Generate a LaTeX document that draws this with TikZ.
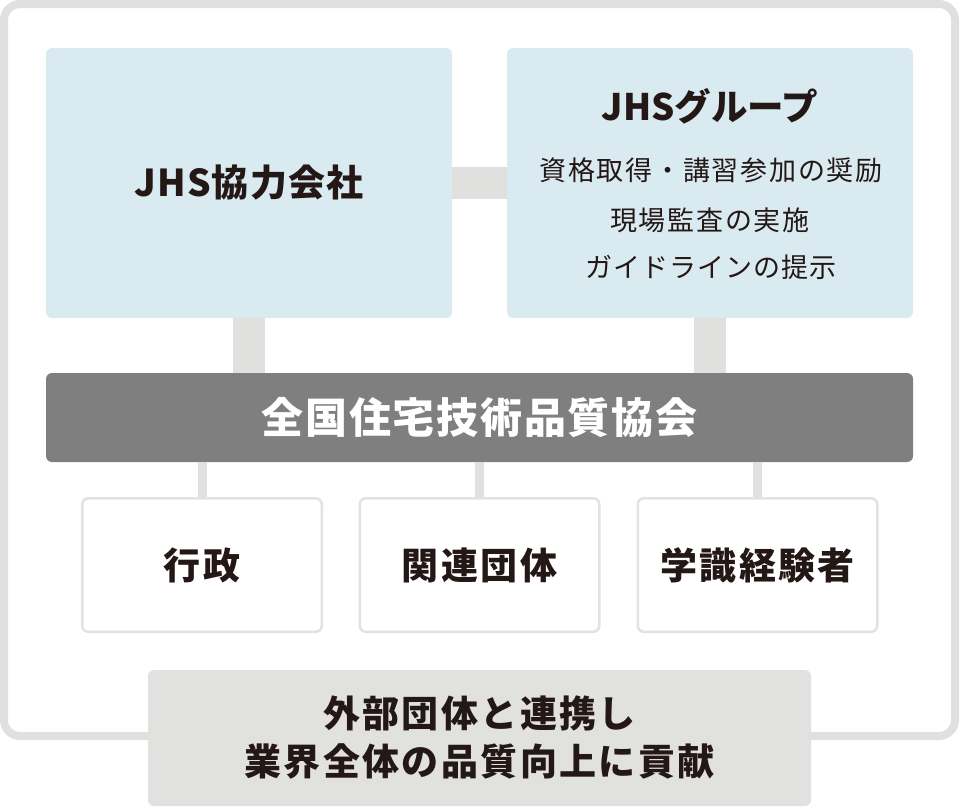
\documentclass[tikz,border=0pt]{standalone}
\usepackage{fontspec}
\setmainfont{Noto Sans CJK JP}
\definecolor{boxblue}{HTML}{DAEAF1}
\definecolor{darkbar}{HTML}{7F7F7F}
\definecolor{linegray}{HTML}{E0E0DE}
\definecolor{bottomgray}{HTML}{E1E1DF}
\definecolor{smallborder}{HTML}{E2E2E2}
\definecolor{ink}{HTML}{231815}
\begin{document}
\begin{tikzpicture}[x=1pt,y=-1pt,
  bluebox/.style={fill=boxblue, rounded corners=6pt, inner sep=0pt, text=ink},
  darkbox/.style={fill=darkbar, rounded corners=6pt, inner sep=0pt, text=white},
  smallbox/.style={draw=smallborder, line width=2.5pt, fill=white, rounded corners=6pt,
    inner sep=0pt, minimum width=239.5pt, minimum height=133.5pt, text=ink,
    font=\fontsize{37}{44}\selectfont\bfseries\addfontfeatures{LetterSpace=6.5}},
  bottombox/.style={fill=bottomgray, rounded corners=6pt, inner sep=0pt, text=ink, align=center},
  thickconn/.style={draw=linegray, line width=32pt},
  thinconn/.style={draw=linegray, line width=9pt},
  txt/.style={inner sep=0pt, text=ink}
]
\useasboundingbox (0,0) rectangle (960,807);
% outer frame
\draw[linegray, line width=8pt, rounded corners=16pt] (4,4) rectangle (955,736);

% main nodes
\node[bluebox, minimum width=406pt, minimum height=270pt,
  font=\fontsize{37}{44}\selectfont\bfseries\addfontfeatures{LetterSpace=3}] (kyo) at (249,183) {JHS協力会社};
\node[bluebox, minimum width=406pt, minimum height=270pt] (grp) at (710,183) {};
\node[darkbox, minimum width=867pt, minimum height=89pt,
  font=\fontsize{42}{48}\selectfont\bfseries\addfontfeatures{LetterSpace=4}] (assoc) at (479.5,417.5) {全国住宅技術品質協会};

% connectors
\draw[thickconn] (kyo.east) -- (grp.west);
\draw[thickconn] (kyo.south) -- (kyo.south |- assoc.north);
\draw[thickconn] (grp.south) -- (grp.south |- assoc.north);

% group texts
\node[txt, font=\fontsize{36.5}{42}\selectfont\bfseries] (grptitle) at (710,106) {JHSグループ};
\node[txt, font=\fontsize{27}{32}\selectfont\addfontfeatures{LetterSpace=6.5}] (l1) at (711,170) {資格取得・講習参加の奨励};
\node[txt, font=\fontsize{27}{32}\selectfont\addfontfeatures{LetterSpace=6.5}] (l2) at (710,220) {現場監査の実施};
\node[txt, font=\fontsize{27}{32}\selectfont\addfontfeatures{LetterSpace=4}] (l3) at (711,267) {ガイドラインの提示};

% small boxes
\node[smallbox] (gyo) at (202,565) {行政};
\node[smallbox] (kan) at (479.5,565) {関連団体};
\node[smallbox] (gak) at (757.5,565) {学識経験者};
\draw[thinconn] (assoc.south -| gyo.north) -- (gyo.north);
\draw[thinconn] (assoc.south -| kan.north) -- (kan.north);
\draw[thinconn] (assoc.south -| gak.north) -- (gak.north);

% bottom box
\node[bottombox, minimum width=663pt, minimum height=136pt,
  font=\fontsize{37}{48}\selectfont\bfseries\addfontfeatures{LetterSpace=6.5}] (bot) at (479.5,738)
  {外部団体と連携し\\業界全体の品質向上に貢献};
\end{tikzpicture}
\end{document}
